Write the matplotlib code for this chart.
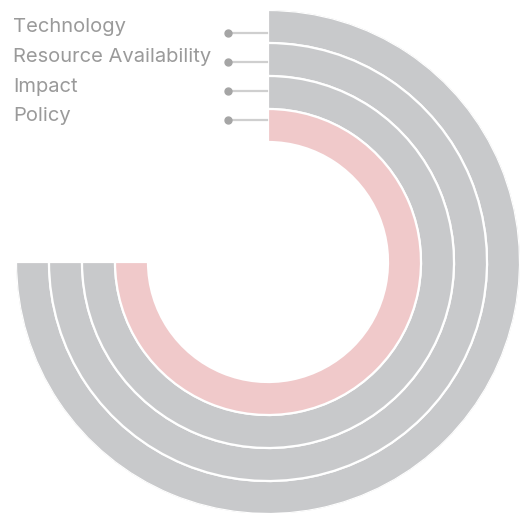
import numpy as np
import matplotlib
matplotlib.use("Agg")
import matplotlib.pyplot as plt
from matplotlib.lines import Line2D

# data
categories = ["Technology", "Resource Availability", "Impact", "Policy"]
values = [100, 100, 100, 100]
max_value = 100
highlight = "Policy"

W, H = 529, 513
fig = plt.figure(figsize=(W / 100, H / 100), dpi=100)

cx, cy, R = 268, 262, 252
ax = fig.add_axes([(cx - R) / W, (H - cy - R) / H, 2 * R / W, 2 * R / H], projection="polar")
ax.set_theta_zero_location("N")
ax.set_theta_direction(-1)
ax.set_ylim(0, R)
ax.axis("off")

band = 33
outer = R
for i, (cat, v) in enumerate(zip(categories, values)):
    span = v / max_value * 1.5 * np.pi
    col = "#f0c9ca" if cat == highlight else "#c8c9cb"
    ax.bar(0, band, width=span, bottom=outer - band * (i + 1), align="edge",
           color=col, edgecolor="white", linewidth=1.6)

# labels on the left with leader lines
label_y = [27, 57, 87, 116]
line_y = [32.5, 61.5, 90.5, 119.5]
for cat, ty, ly in zip(categories, label_y, line_y):
    fig.text(13 / W, 1 - ty / H, cat, fontsize=14.5, color="#9a9a9a",
             va="center", ha="left", family="Inter")
    fig.add_artist(Line2D([228 / W, 267 / W], [1 - ly / H, 1 - ly / H],
                          color="#cfcfcf", lw=1.6, transform=fig.transFigure))
    fig.add_artist(Line2D([228 / W], [1 - ly / H], marker="o", markersize=5,
                          color="#a5a5a5", transform=fig.transFigure))

fig.savefig("out.png", dpi=100)
